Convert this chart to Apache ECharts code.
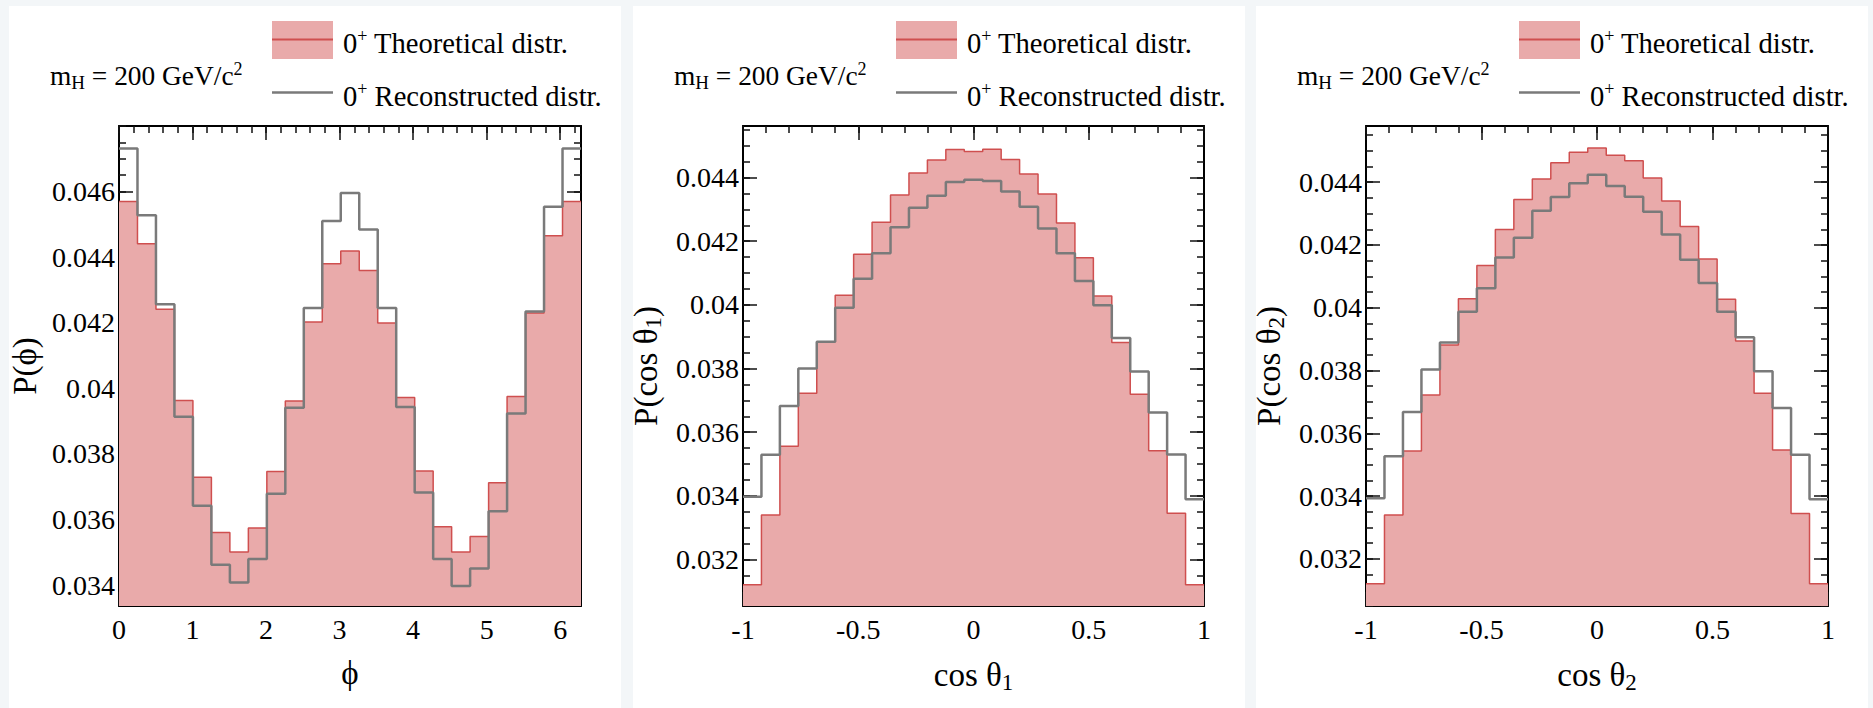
<!DOCTYPE html>
<html>
<head>
<meta charset="utf-8">
<title>0+ theoretical vs reconstructed angular distributions</title>
<script src="https://cdn.jsdelivr.net/npm/echarts@6/dist/echarts.min.js"></script>
<style>
  body { margin: 0; background: #f3f6f8; }
  .panel { position: absolute; top: 6px; bottom: 0; width: 612px; background: #fff; }
  #chart { position: absolute; left: 0; top: 0; width: 1873px; height: 708px; }
</style>
</head>
<body>
<div class="panel" style="left:9px"></div>
<div class="panel" style="left:633px"></div>
<div class="panel" style="left:1256px"></div>
<div id="chart"></div>
<script>
// bin ranges (25 equal bins per histogram)
const phiRange = [0, 2 * Math.PI];
const cosRange = [-1, 1];

// P(phi)
const phiTheo = [0.04570, 0.04441, 0.04241, 0.03963, 0.03729, 0.03560, 0.03501, 0.03574, 0.03746, 0.03961,
  0.04202, 0.04380, 0.04419, 0.04359, 0.04199, 0.03972, 0.03748, 0.03578, 0.03501, 0.03548,
  0.03712, 0.03975, 0.04230, 0.04465, 0.04570];
const phiReco = [0.04731, 0.04528, 0.04256, 0.03913, 0.03642, 0.03462, 0.03408, 0.03479, 0.03678, 0.03941,
  0.04245, 0.04510, 0.04596, 0.04484, 0.04245, 0.03943, 0.03682, 0.03479, 0.03397, 0.03450,
  0.03625, 0.03923, 0.04234, 0.04554, 0.04731];

// P(cos theta1)
const cos1Theo = [0.03121, 0.03340, 0.03556, 0.03722, 0.03884, 0.04030, 0.04159, 0.04260, 0.04345, 0.04414,
  0.04455, 0.04488, 0.04482, 0.04489, 0.04457, 0.04411, 0.04348, 0.04257, 0.04148, 0.04028,
  0.03882, 0.03719, 0.03542, 0.03345, 0.03121];
const cos1Reco = [0.03397, 0.03529, 0.03682, 0.03800, 0.03884, 0.03991, 0.04082, 0.04162, 0.04244, 0.04305,
  0.04343, 0.04386, 0.04393, 0.04389, 0.04356, 0.04308, 0.04240, 0.04162, 0.04075, 0.03999,
  0.03896, 0.03791, 0.03662, 0.03530, 0.03389];

// P(cos theta2)
const cos2Theo = [0.03121, 0.03340, 0.03544, 0.03722, 0.03881, 0.04029, 0.04135, 0.04249, 0.04345, 0.04410,
  0.04462, 0.04495, 0.04509, 0.04486, 0.04468, 0.04413, 0.04340, 0.04259, 0.04155, 0.04027,
  0.03894, 0.03728, 0.03547, 0.03345, 0.03121];
const cos2Reco = [0.03393, 0.03527, 0.03668, 0.03803, 0.03889, 0.03987, 0.04062, 0.04160, 0.04223, 0.04309,
  0.04353, 0.04397, 0.04424, 0.04388, 0.04354, 0.04306, 0.04233, 0.04153, 0.04079, 0.03987,
  0.03906, 0.03798, 0.03681, 0.03532, 0.03390];

// axis ranges and tick labels
const phiYRange = [0.03336, 0.048];
const cos1YRange = [0.03054, 0.04562];
const cos2YRange = [0.0305, 0.04579];
const phiTicks = [0, 1, 2, 3, 4, 5, 6];
const cosTicks = [-1, -0.5, 0, 0.5, 1];
const phiYTicks = [0.034, 0.036, 0.038, 0.04, 0.042, 0.044, 0.046];
const cosYTicks = [0.032, 0.034, 0.036, 0.038, 0.04, 0.042, 0.044];

const theoName = '0{sup|+} Theoretical distr.';
const recoName = '0{sup|+} Reconstructed distr.';
const massLabel = 'm{sub|H} = 200 GeV/c{sup|2}';

const FONT = 'Liberation Serif';
const FILL = '#e9aaaa';
const RED = '#cf4f4f';
const GREY = '#7a7a7a';

const panels = [
  { left: 119, width: 462, xRange: phiRange, xTicks: phiTicks, xStep: 0.2, yRange: phiYRange, yTicks: phiYTicks,
    xName: 'ϕ', yName: 'P(ϕ)', theo: phiTheo, reco: phiReco },
  { left: 743, width: 461, xRange: cosRange, xTicks: cosTicks, xStep: 0.1, yRange: cos1YRange, yTicks: cosYTicks,
    xName: 'cos θ{sub|1}', yName: 'P(cos θ{sub|1})', theo: cos1Theo, reco: cos1Reco },
  { left: 1366, width: 462, xRange: cosRange, xTicks: cosTicks, xStep: 0.1, yRange: cos2YRange, yTicks: cosYTicks,
    xName: 'cos θ{sub|2}', yName: 'P(cos θ{sub|2})', theo: cos2Theo, reco: cos2Reco }
];

function minorTicks(lo, hi, step) {
  const out = [];
  for (let k = Math.ceil(lo / step - 1e-9); k * step <= hi + 1e-12; k++) out.push(+(k * step).toFixed(6));
  return out;
}

// histogram -> step points at bin edges
function steps(values, range) {
  const w = (range[1] - range[0]) / values.length;
  const pts = values.map((v, i) => [range[0] + i * w, v]);
  pts.push([range[1], values[values.length - 1]]);
  return pts;
}

const titleStyle = {
  fontFamily: FONT, fontSize: 33, color: '#000',
  rich: { sub: { fontFamily: FONT, fontSize: 23, color: '#000', verticalAlign: 'bottom', padding: [15, 0, 0, 0] } }
};
const tickLabel = { fontFamily: FONT, fontSize: 28, color: '#000' };
const frameLine = { show: true, onZero: false, lineStyle: { color: '#000', width: 2 } };
const tickLine = { color: '#111', width: 1.5 };

function axesFor(p, gi, dim) {
  const isX = dim === 'x';
  const range = isX ? p.xRange : p.yRange;
  const major = isX ? p.xTicks : p.yTicks;
  const minor = minorTicks(range[0], range[1], isX ? p.xStep : 0.0005);
  const sides = isX ? ['bottom', 'top'] : ['left', 'right'];
  const base = {
    type: 'value', gridIndex: gi, min: range[0], max: range[1],
    splitLine: { show: false }, axisLabel: { show: false }, axisLine: { show: false, onZero: false }
  };
  const list = [];
  sides.forEach((side, s) => {
    const main = Object.assign({}, base, {
      position: side,
      axisLine: frameLine,
      axisTick: { inside: true, length: 14, customValues: major, lineStyle: tickLine }
    });
    if (s === 0) {
      main.axisLabel = Object.assign({
        show: true, customValues: major, margin: isX ? 9 : 4,
        formatter: v => isX ? String(v) : String(+v.toFixed(4))
      }, tickLabel);
      main.name = isX ? p.xName : p.yName;
      main.nameLocation = 'middle';
      main.nameGap = isX ? 50 : 78;
      main.nameTextStyle = titleStyle;
    }
    list.push(main);
    list.push(Object.assign({}, base, {
      position: side,
      axisTick: { inside: true, length: 7, customValues: minor, lineStyle: tickLine }
    }));
  });
  return list;
}

const grid = [], xAxis = [], yAxis = [], series = [], graphic = [];
const smallRich = {
  sup: { fontFamily: FONT, fontSize: 18, fill: '#000', lineHeight: 14, verticalAlign: 'top' },
  sub: { fontFamily: FONT, fontSize: 19, fill: '#000', lineHeight: 14, verticalAlign: 'bottom' }
};

function label(x, y, text, size) {
  return {
    type: 'text', x, y,
    style: { text, fill: '#000', fontFamily: FONT, fontSize: size, lineHeight: 32,
      verticalAlign: 'middle', textVerticalAlign: 'middle', rich: smallRich }
  };
}

panels.forEach((p, i) => {
  grid.push({ left: p.left, width: p.width, top: 126, height: 480 });
  xAxis.push(...axesFor(p, i, 'x'));
  yAxis.push(...axesFor(p, i, 'y'));
  series.push({
    name: 'theoretical', type: 'line', step: 'end', xAxisIndex: 4 * i, yAxisIndex: 4 * i,
    data: steps(p.theo, p.xRange), symbol: 'none', z: 2,
    lineStyle: { color: RED, width: 1.5 },
    areaStyle: { color: FILL, opacity: 1, origin: 'start' }
  });
  series.push({
    name: 'reconstructed', type: 'line', step: 'end', xAxisIndex: 4 * i, yAxisIndex: 4 * i,
    data: steps(p.reco, p.xRange), symbol: 'none', z: 3,
    lineStyle: { color: GREY, width: 2.5 }
  });

  // legend + mass label, ROOT style
  const lx = p.left + 153;
  graphic.push(
    { type: 'rect', shape: { x: lx, y: 21, width: 61, height: 38 }, style: { fill: FILL } },
    { type: 'line', shape: { x1: lx, y1: 39.5, x2: lx + 61, y2: 39.5 }, style: { stroke: RED, lineWidth: 2 } },
    { type: 'line', shape: { x1: lx, y1: 92.5, x2: lx + 61, y2: 92.5 }, style: { stroke: GREY, lineWidth: 2.5 } },
    label(lx + 71, 43, theoName, 28.6),
    label(lx + 71, 96, recoName, 28.6),
    label(p.left - 69, 76, massLabel, 27.4)
  );
});

const chart = echarts.init(document.getElementById('chart'), null, { renderer: 'svg' });
chart.setOption({
  animation: false,
  backgroundColor: 'transparent',
  grid, xAxis, yAxis, series, graphic
});
</script>
</body>
</html>
